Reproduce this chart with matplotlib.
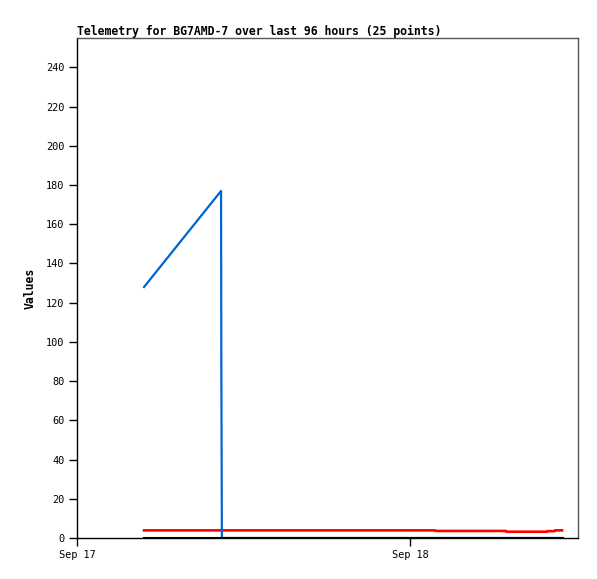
import numpy as np
import pandas as pd
import matplotlib
matplotlib.use('Agg')
import matplotlib.pyplot as plt
import matplotlib.dates as mdates

# hours after Sep 17 00:00
hours = [4.83, 10.38, 10.40, 10.44, 12.5, 14.5, 16.5, 18.5, 20.5, 22.5, 24.5, 25.8,
         25.85, 27.5, 29.0, 30.9, 30.95, 32.0, 33.0, 33.85, 33.9, 34.4, 34.45, 34.9, 34.95]
blue_vals = [128, 177, 88, 0, 0, 0, 0, 0, 0, 0, 0, 0,
             0, 0, 0, 0, 0, 0, 0, 0, 0, 0, 0, 0, 0]
red_vals = [3.9, 3.9, 3.9, 3.9, 3.9, 3.9, 3.9, 3.9, 3.9, 3.9, 3.9, 3.9,
            3.6, 3.6, 3.6, 3.6, 3.2, 3.2, 3.2, 3.2, 3.5, 3.5, 3.9, 3.9, 3.9]
black_vals = [0] * 25

start = pd.Timestamp('2023-09-17 00:00')
times = [start + pd.Timedelta(hours=h) for h in hours]

fig = plt.figure(figsize=(5.97, 5.79), dpi=100)
ax = fig.add_axes([77 / 597, 1 - 538 / 579, 501 / 597, 500 / 579])

ax.plot(times, red_vals, color='#ff0000', lw=1.9, zorder=2)
ax.plot(times, blue_vals, color='#0066cc', lw=1.6, zorder=3)
ax.plot(times, black_vals, color='#000000', lw=2.2, zorder=4)

ax.set_ylim(0, 255)
ax.set_xlim(start, start + pd.Timedelta(hours=36.1))
ax.set_yticks(np.arange(0, 241, 20))
ax.set_xticks([start, start + pd.Timedelta(hours=24)])
ax.xaxis.set_major_formatter(mdates.DateFormatter('%b %d'))

mono = 'DejaVu Sans Mono'
for lab in ax.get_xticklabels() + ax.get_yticklabels():
    lab.set_family(mono)
    lab.set_fontsize(7.4)
ax.tick_params(direction='out', length=6, width=1, pad=3)

ax.spines['left'].set_color('black')
ax.spines['bottom'].set_color('black')
ax.spines['top'].set_color('#555555')
ax.spines['right'].set_color('#555555')
for s in ax.spines.values():
    s.set_linewidth(1)

ax.set_title('Telemetry for BG7AMD-7 over last 96 hours (25 points)', loc='left',
             family=mono, fontsize=8.3, fontweight='bold', pad=2)
ax.set_ylabel('Values', family=mono, fontsize=8.3, fontweight='bold', labelpad=7)

fig.savefig('out.png', dpi=100)
